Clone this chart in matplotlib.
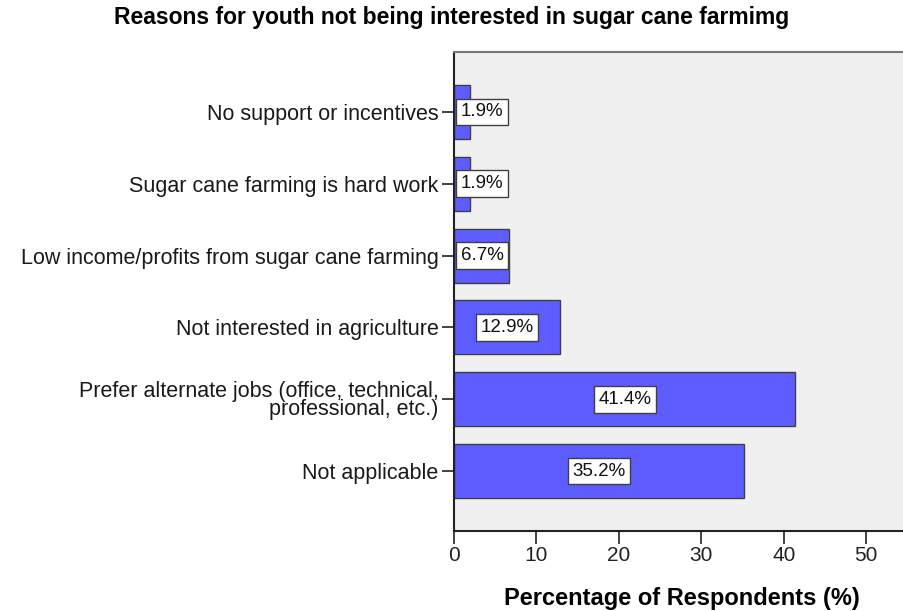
import numpy as np
import matplotlib
matplotlib.use('Agg')
from matplotlib import pyplot as plt

plt.rcParams['font.family'] = ['Liberation Sans', 'DejaVu Sans']

reasons = ['No support or incentives',
           'Sugar cane farming is hard work',
           'Low income/profits from sugar cane farming',
           'Not interested in agriculture',
           'Prefer alternate jobs (office, technical,\nprofessional, etc.)',
           'Not applicable']
percent = [1.9, 1.9, 6.7, 12.9, 41.4, 35.2]
x_ticks = [0, 10, 20, 30, 40, 50]

fig = plt.figure(figsize=(9.04, 6.11), dpi=100)
# axes run a little past the right edge, as in the exported chart
ax = fig.add_axes([454 / 904, 1 - 531 / 611, 456 / 904, 479 / 611])
ax.set_facecolor('#f0f0f0')

y = np.arange(len(reasons))
ax.barh(y, percent, height=0.75, color='#5c5cff', edgecolor='#404040', linewidth=1.0, zorder=2)

for yi, v in zip(y, percent):
    # keep the box clear of the axis for tiny bars
    xpos = max(v / 2, 3.4)
    ax.text(xpos, yi, f'{v}%', ha='center', va='center', fontsize=13.5, zorder=3,
            color='#111111',
            bbox=dict(boxstyle='square,pad=0.25', fc='white', ec='#404040', lw=1.0))

ax.set_ylim(5.83, -0.83)
ax.set_xlim(0, 55.3)
ax.set_yticks(y)
ax.set_yticklabels(reasons, fontsize=15.5, linespacing=0.85, color='#1a1a1a')
ax.set_xticks(x_ticks)
ax.set_xticklabels([str(t) for t in x_ticks], fontsize=15, color='#222222')
ax.tick_params(axis='both', direction='out', length=9, width=1.2, color='#222222', pad=2)

for side in ['left', 'bottom']:
    ax.spines[side].set_linewidth(1.5)
    ax.spines[side].set_color('#222222')
ax.spines['top'].set_color('#777777')
ax.spines['top'].set_linewidth(1.5)
ax.spines['right'].set_visible(False)

ax.set_xlabel('Percentage of Respondents (%)', fontsize=17, fontweight='bold', labelpad=16)
fig.suptitle('Reasons for youth not being interested in sugar cane farmimg',
             fontsize=16.5, fontweight='bold', x=0.5, y=0.99, va='top')

fig.savefig('out.png', dpi=100)
